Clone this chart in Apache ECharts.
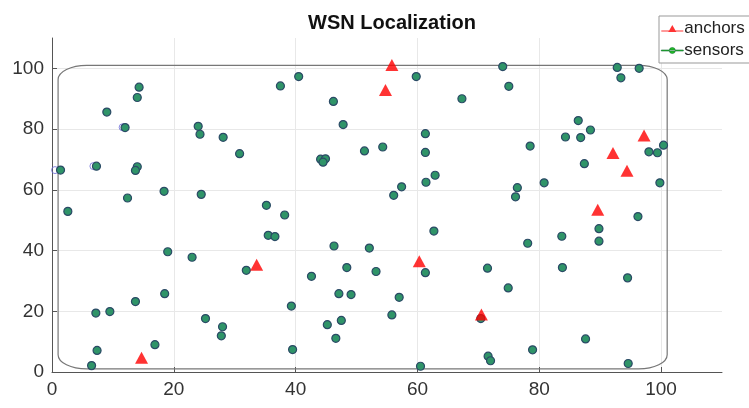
<!DOCTYPE html>
<html>
<head>
<meta charset="utf-8">
<script src="https://cdn.jsdelivr.net/npm/echarts@6/dist/echarts.min.js"></script>
<style>
    html, body { margin: 0; padding: 0; background: #fff; }
    #chart { width: 749px; height: 408px; }
</style>
</head>
<body>
<div id="chart"></div>
<script>
// sensor positions (x, y)
const sensorX = [14.3, 14.0, 9.0, 12.0, 24.0, 24.3, 28.1, 30.8, 1.4, 7.3,
    14.0, 13.7, 18.4, 24.5, 12.4, 2.6, 40.5, 59.8, 37.5, 46.2,
    47.8, 61.3, 51.3, 54.3, 61.3, 44.1, 44.9, 44.5, 62.9, 61.4,
    57.4, 56.1, 35.2, 38.2, 74.0, 92.8, 96.4, 93.4, 75.0, 67.3,
    86.4, 88.4, 84.3, 86.8, 78.5, 100.4, 98.0, 99.4, 87.4, 80.8,
    99.8, 76.4, 76.1, 96.2, 19.0, 23.0, 18.5, 13.7, 7.2, 9.5,
    25.2, 28.0, 27.8, 16.9, 7.4, 6.5, 35.5, 36.6, 62.7, 46.3,
    52.1, 31.9, 48.4, 53.2, 61.3, 42.6, 47.1, 49.1, 57.0, 39.3,
    55.8, 47.5, 45.2, 46.6, 39.5, 60.5, 89.8, 89.8, 83.7, 78.1,
    71.5, 83.8, 94.5, 74.9, 70.4, 87.6, 78.9, 71.6, 72.0, 94.6]
const sensorY = [93.8, 90.4, 85.6, 80.5, 80.9, 78.3, 77.3, 71.9, 66.5, 67.8,
    67.6, 66.4, 59.5, 58.5, 57.3, 52.9, 97.3, 97.3, 94.2, 89.1,
    81.5, 78.5, 72.8, 74.1, 72.3, 70.1, 70.2, 69.1, 64.8, 62.5,
    61.0, 58.2, 54.9, 51.7, 100.6, 100.3, 100.0, 96.9, 94.1, 90.0,
    82.8, 79.7, 77.4, 77.2, 74.4, 74.7, 72.5, 72.2, 68.6, 62.3,
    62.3, 60.7, 57.7, 51.2, 39.6, 37.8, 25.8, 23.2, 19.4, 19.9,
    17.6, 14.9, 11.9, 9.0, 7.1, 2.1, 45.0, 44.6, 46.4, 41.5,
    40.8, 33.5, 34.4, 33.1, 32.7, 31.5, 25.8, 25.5, 24.6, 21.7,
    18.8, 17.0, 15.6, 11.1, 7.4, 1.9, 47.2, 43.1, 44.7, 42.4,
    34.2, 34.4, 31.0, 27.7, 17.6, 10.9, 7.3, 5.2, 3.7, 2.8]

// estimated positions that sit visibly apart from the sensor
const estimateX = [0.5, 6.8, 11.6]
const estimateY = [66.5, 67.8, 80.6]

// anchor positions
const anchorX = [14.7, 33.6, 55.8, 54.75, 60.3, 70.5, 89.6, 92.1, 94.4, 97.2]
const anchorY = [4.7, 35.3, 101.1, 92.9, 36.5, 18.9, 53.4, 72.1, 66.3, 77.9]

// deployment field: [xMin, yMin, xMax, yMax], corner radius
const fieldBounds = [1, 1, 101, 101]
const fieldCorner = 4.7

const font = "'Liberation Sans', Arial, sans-serif"

function zip(xs, ys) {
    return xs.map((x, i) => [x, ys[i]])
}

function renderField(params, api) {
    const lt = api.coord([fieldBounds[0], fieldBounds[3]])
    const rb = api.coord([fieldBounds[2], fieldBounds[1]])
    const rx = api.size([fieldCorner, 0])[0]
    const ry = api.size([0, fieldCorner])[1]
    const l = lt[0], t = lt[1], r = rb[0], b = rb[1]
    const d = [
        'M', l + rx, t, 'L', r - rx, t,
        'A', rx, ry, 0, 0, 1, r, t + ry,
        'L', r, b - ry,
        'A', rx, ry, 0, 0, 1, r - rx, b,
        'L', l + rx, b,
        'A', rx, ry, 0, 0, 1, l, b - ry,
        'L', l, t + ry,
        'A', rx, ry, 0, 0, 1, l + rx, t, 'Z'
    ].join(' ')
    return {
        type: 'path',
        shape: { pathData: d, x: l, y: t, width: r - l, height: b - t },
        style: { fill: 'none', stroke: '#777', lineWidth: 1.2 }
    }
}

const axisCommon = {
    type: 'value',
    min: 0,
    max: 110,
    interval: 20,
    axisLine: { show: true, lineStyle: { color: '#555', width: 1 } },
    axisTick: { show: true, inside: true, length: 5, lineStyle: { color: '#555' } },
    splitLine: { show: true, showMaxLine: false, lineStyle: { color: '#e8e8e8', width: 1 } },
    axisLabel: {
        color: '#333',
        fontSize: 19,
        fontFamily: font,
        showMaxLabel: false,
        formatter: (v) => (v % 20 === 0 ? String(v) : '')
    }
}

const chart = echarts.init(document.getElementById('chart'))
chart.setOption({
    animation: false,
    backgroundColor: '#fff',
    title: {
        text: 'WSN Localization',
        left: 387,
        top: 8,
        textAlign: 'center',
        textStyle: { fontSize: 20, fontWeight: 'bold', color: '#111', fontFamily: font }
    },
    grid: { left: 52, right: 27, top: 38, bottom: 36 },
    legend: {
        orient: 'vertical',
        left: 659,
        top: 16,
        padding: [4, 6, 4, 2],
        itemGap: 5,
        itemWidth: 22,
        itemHeight: 16,
        backgroundColor: '#fff',
        borderColor: '#999',
        borderWidth: 1,
        borderRadius: 0,
        textStyle: { fontSize: 17, color: '#222', fontFamily: font, padding: [0, 0, 0, -4] },
        data: [
            {
                name: 'anchors',
                icon: 'path://M0,8.5 L22,8.5 L22,9.5 L0,9.5 Z M11,3 L15,10 L7,10 Z',
                itemStyle: { color: '#ff0000', borderWidth: 0 }
            },
            {
                name: 'sensors',
                icon: 'path://M0,8.5 L22,8.5 L22,9.5 L0,9.5 Z M8,9 A3,3 0 1,0 14,9 A3,3 0 1,0 8,9 Z',
                itemStyle: { color: '#22c422', borderColor: '#1a6e3a', borderWidth: 0.6 }
            }
        ]
    },
    xAxis: axisCommon,
    yAxis: axisCommon,
    series: [
        {
            name: 'field',
            type: 'custom',
            silent: true,
            renderItem: renderField,
            data: [[fieldBounds[0], fieldBounds[1]]],
            z: 1
        },
        {
            name: 'estimates',
            type: 'scatter',
            symbol: 'circle',
            symbolSize: 7,
            data: zip(estimateX, estimateY),
            itemStyle: { color: 'rgba(255,255,255,0)', borderColor: '#6a6ad8', borderWidth: 1 },
            z: 2
        },
        {
            name: 'sensors',
            type: 'scatter',
            symbol: 'circle',
            symbolSize: 8,
            data: zip(sensorX, sensorY),
            itemStyle: { color: '#2f9468', borderColor: '#2b4a66', borderWidth: 1.2, opacity: 1 },
            z: 3
        },
        {
            name: 'anchors',
            type: 'scatter',
            symbol: 'triangle',
            symbolSize: [13, 12],
            data: zip(anchorX, anchorY),
            itemStyle: { color: '#ff0000' },
            z: 4
        }
    ]
})
</script>
</body>
</html>
